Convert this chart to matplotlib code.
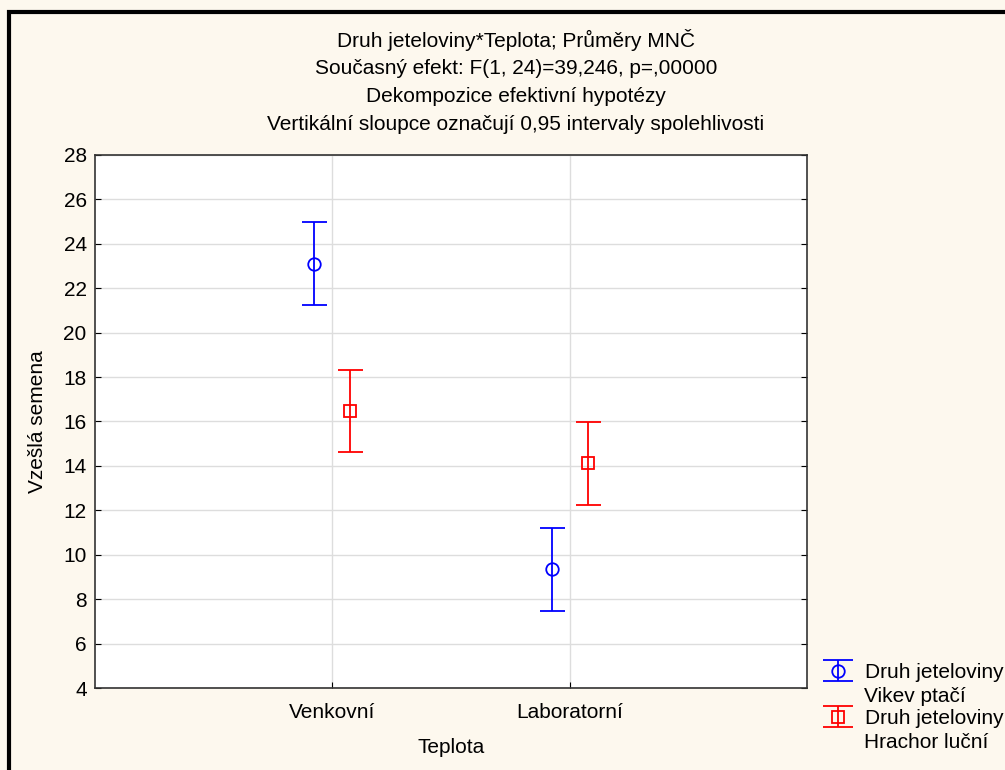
import matplotlib.pyplot as plt
from matplotlib.patches import Rectangle
from matplotlib.container import ErrorbarContainer
from matplotlib.legend_handler import HandlerErrorbar

plt.rcParams['font.family'] = ['Liberation Sans', 'DejaVu Sans']

categories = ['Venkovní', 'Laboratorní']
vikev_mean = [23.1, 9.35]
vikev_ci = [1.87, 1.87]
hrachor_mean = [16.47, 14.12]
hrachor_ci = [1.86, 1.87]
series_first = ['Druh jeteloviny', 'Druh jeteloviny']
series_second = ['Vikev ptačí', 'Hrachor luční']

title_lines = ['Druh jeteloviny*Teplota; Průměry MNČ',
               'Současný efekt: F(1, 24)=39,246, p=,00000',
               'Dekompozice efektivní hypotézy',
               'Vertikální sloupce označují 0,95 intervaly spolehlivosti']

W, H = 1005, 770
fs = 15
fig = plt.figure(figsize=(W / 100, H / 100), dpi=100)
fig.patch.set_facecolor('#fdf8ee')

# outer frame (only the left and top edges are visible in the picture)
fig.patches.append(Rectangle((8.5 / W, -0.1), 1.2, 1.1 - 11.5 / H, transform=fig.transFigure,
                             fill=False, edgecolor='black', linewidth=3))

ax = fig.add_axes([95 / W, 1 - 688 / H, (807 - 95) / W, (688 - 155) / H])
ax.set_facecolor('white')

x = [1, 2]
off = 0.076
e1 = ax.errorbar([v - off for v in x], vikev_mean, yerr=vikev_ci, fmt='o', color='#0000ff',
                 mfc='none', ms=9, mew=1.3, elinewidth=1.3, capsize=9, capthick=1.3)
e2 = ax.errorbar([v + off for v in x], hrachor_mean, yerr=hrachor_ci, fmt='s', color='#ff0000',
                 mfc='none', ms=8, mew=1.3, elinewidth=1.3, capsize=9, capthick=1.3)

ax.set_xlim(0, 3)
ax.set_ylim(4, 28)
ax.set_xticks(x)
ax.set_xticklabels(categories)
ax.set_yticks(range(4, 29, 2))
ax.grid(True, color='#dddddd', linewidth=1)
ax.set_axisbelow(True)
ax.tick_params(direction='in', length=4, labelsize=fs, colors='black', right=True)
ax.tick_params(axis='x', pad=11)
ax.tick_params(axis='y', pad=6)
for s in ax.spines.values():
    s.set_linewidth(1.2)
    s.set_color('#333333')

ax.set_xlabel('Teplota', fontsize=fs, labelpad=11)
ax.set_ylabel('Vzešlá semena', fontsize=fs, labelpad=12)

for i, line in enumerate(title_lines):
    fig.text(516 / W, 1 - (40 + 28 * i) / H, line, ha='center', va='center', fontsize=fs)


# wider caps in the legend than in the plot
def wide_caps(leg_line, orig):
    leg_line.update_from(orig)
    if hasattr(orig, 'get_marker') and orig.get_marker() == '_':
        leg_line.set_markersize(22)


fig.legend(handles=[e1, e2], labels=series_first, loc='upper left',
           bbox_to_anchor=(822 / W, 1 - 663 / H), frameon=False, fontsize=fs,
           handlelength=1.55, handletextpad=0.5, labelspacing=1.3, borderpad=0,
           borderaxespad=0,
           handler_map={ErrorbarContainer: HandlerErrorbar(update_func=wide_caps)})
for i, txt in enumerate(series_second):
    fig.text(864 / W, 1 - (696 + 46 * i) / H, txt, ha='left', va='center', fontsize=fs)

fig.savefig('out.png', dpi=100, facecolor=fig.get_facecolor())
